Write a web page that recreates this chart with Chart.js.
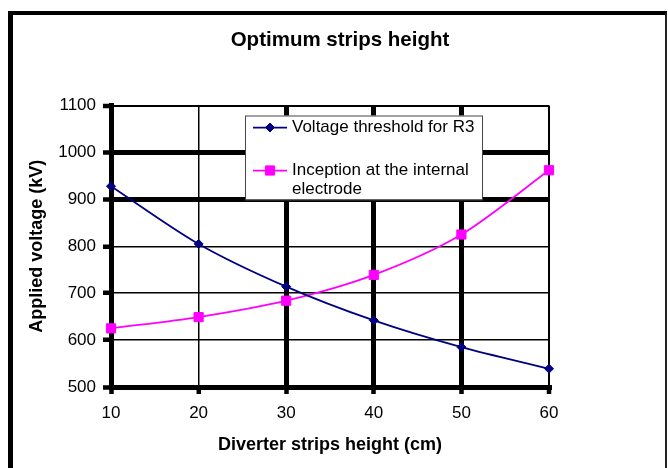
<!DOCTYPE html>
<html>
<head>
<meta charset="utf-8">
<title>Optimum strips height</title>
<script src="https://cdn.jsdelivr.net/npm/chart.js@4/dist/chart.umd.min.js"></script>
<style>
  html, body { margin: 0; padding: 0; background: #fff; }
  #wrap { position: relative; width: 668px; height: 468px; overflow: hidden; }
  #wrap canvas { position: absolute; left: 0; top: 0; }
  /* black frame round the chart (cut at the bottom) */
  #frame {
    position: absolute; left: 8px; top: 11px; right: 1px; bottom: -10px;
    border-left: 5px solid #000; border-top: 4px solid #000; border-right: 2px solid #222;
    pointer-events: none;
  }
</style>
</head>
<body>
<div id="wrap">
  <canvas id="chart" width="668" height="468"></canvas>
  <div id="frame"></div>
</div>
<script>
// ======== Data ========
const stripHeights = [10, 20, 30, 40, 50, 60];            // cm
const thresholdR3 = [928, 805, 714, 642, 585, 539];       // kV
const inceptionInternal = [625, 649, 684, 739, 825, 962]; // kV
const voltageTicks = [500, 600, 700, 800, 900, 1000, 1100];
const seriesNames = ['Voltage threshold for R3', 'Inception at the internal electrode'];

const FONT = "'Liberation Sans', Arial, Helvetica, sans-serif";

// heavy grid lines, as in the original sheet
const heavyY = [500, 900, 1000];
const heavyX = [10, 30, 40, 50];

function gridWidthY(ctx) {
  const v = ctx.tick && ctx.tick.value;
  if (heavyY.includes(v)) return 5;
  if (v === voltageTicks[voltageTicks.length - 1]) return 2;
  return 1.5;
}
function gridWidthX(ctx) {
  const v = stripHeights[ctx.index];
  if (heavyX.includes(v)) return 5;
  if (v === stripHeights[stripHeights.length - 1]) return 2;
  return 1.5;
}

// ======== Legend box inside the plot ========
const legendBox = {
  id: 'legendBox',
  afterDatasetsDraw(chart) {
    const { ctx, chartArea } = chart;
    const x = chartArea.left + 134, y = chartArea.top + 10, w = 237, h = 84;
    const rows = [12, 55];
    ctx.save();
    ctx.fillStyle = '#fff';
    ctx.fillRect(x, y, w, h);
    ctx.strokeStyle = '#444';
    ctx.lineWidth = 1;
    ctx.strokeRect(x + 0.5, y + 0.5, w, h);

    ctx.font = '17px ' + FONT;
    ctx.textBaseline = 'middle';
    ctx.textAlign = 'left';

    chart.data.datasets.forEach((ds, i) => {
      const cy = y + rows[i];
      ctx.strokeStyle = ds.borderColor;
      ctx.fillStyle = ds.backgroundColor;
      ctx.lineWidth = ds.borderWidth;
      ctx.beginPath();
      ctx.moveTo(x + 8, cy);
      ctx.lineTo(x + 42, cy);
      ctx.stroke();

      // marker
      const mx = x + 25;
      ctx.lineWidth = 1;
      ctx.beginPath();
      if (ds.pointStyle === 'rectRot') {
        const r = ds.pointRadius;
        ctx.moveTo(mx, cy - r); ctx.lineTo(mx + r, cy);
        ctx.lineTo(mx, cy + r); ctx.lineTo(mx - r, cy);
      } else {
        const s = ds.pointRadius * Math.SQRT1_2;
        ctx.rect(mx - s, cy - s, 2 * s, 2 * s);
      }
      ctx.closePath();
      ctx.fill();
      ctx.stroke();

      // label, wrapped to the box
      ctx.fillStyle = '#000';
      const words = ds.label.split(' ');
      const lines = [];
      let line = '';
      words.forEach(wd => {
        const test = line ? line + ' ' + wd : wd;
        if (ctx.measureText(test).width > 188 && line) { lines.push(line); line = wd; }
        else line = test;
      });
      lines.push(line);
      lines.forEach((t, k) => ctx.fillText(t, x + 47, cy + k * 19));
    });
    ctx.restore();
  }
};

// ======== Chart ========
new Chart(document.getElementById('chart'), {
  type: 'line',
  data: {
    labels: stripHeights,
    datasets: [
      {
        label: seriesNames[0],
        data: thresholdR3,
        borderColor: '#000080',
        backgroundColor: '#000080',
        borderWidth: 1.75,
        pointStyle: 'rectRot',
        pointRadius: 4.5,
        pointBorderWidth: 1,
        tension: 0.3,
        fill: false
      },
      {
        label: seriesNames[1],
        data: inceptionInternal,
        borderColor: '#FF00FF',
        backgroundColor: '#FF00FF',
        borderWidth: 1.75,
        pointStyle: 'rect',
        pointRadius: 6.5,
        pointBorderWidth: 1,
        tension: 0.3,
        fill: false
      }
    ]
  },
  options: {
    responsive: false,
    animation: false,
    layout: { padding: { left: 14, right: 2, top: 0, bottom: 0 } },
    plugins: {
      legend: { display: false },
      tooltip: { enabled: false },
      title: {
        display: true,
        text: 'Optimum strips height',
        color: '#000',
        font: { family: FONT, size: 20.5, weight: 'bold', lineHeight: 1.2 },
        padding: { top: 28.2, bottom: 52.7 }
      }
    },
    scales: {
      x: {
        offset: false,
        grid: { color: '#000', lineWidth: gridWidthX, tickLength: 7, tickWidth: 4.5, tickColor: '#000' },
        border: { display: true, color: '#000', width: 5 },
        ticks: { color: '#000', font: { family: FONT, size: 17 }, padding: 9, maxRotation: 0 },
        title: {
          display: true,
          text: 'Diverter strips height (cm)',
          color: '#000',
          font: { family: FONT, size: 18, weight: 'bold', lineHeight: 1.2 },
          padding: { top: 0, bottom: 12.6 }
        },
        afterFit(scale) { scale.height = 81; }
      },
      y: {
        min: voltageTicks[0],
        max: voltageTicks[voltageTicks.length - 1],
        afterBuildTicks(scale) { scale.ticks = voltageTicks.map(v => ({ value: v })); },
        grid: { color: '#000', lineWidth: gridWidthY, tickLength: 8, tickWidth: 4.5, tickColor: '#000' },
        border: { display: true, color: '#000', width: 5 },
        ticks: {
          color: '#000',
          font: { family: FONT, size: 17 },
          padding: 7,
          callback: v => String(v)   // plain numbers, no thousands separator
        },
        title: {
          display: true,
          text: 'Applied voltage (kV)',
          color: '#000',
          font: { family: FONT, size: 18, weight: 'bold', lineHeight: 1.2 },
          padding: { top: 12.7, bottom: 0 }
        },
        afterFit(scale) { scale.width = 97; }
      },
      // empty space right of the plot
      spacer: {
        position: 'right',
        display: true,
        grid: { display: false },
        border: { display: false },
        ticks: { display: false },
        afterFit(scale) { scale.width = 117; }
      }
    }
  },
  plugins: [legendBox]
});
</script>
</body>
</html>
